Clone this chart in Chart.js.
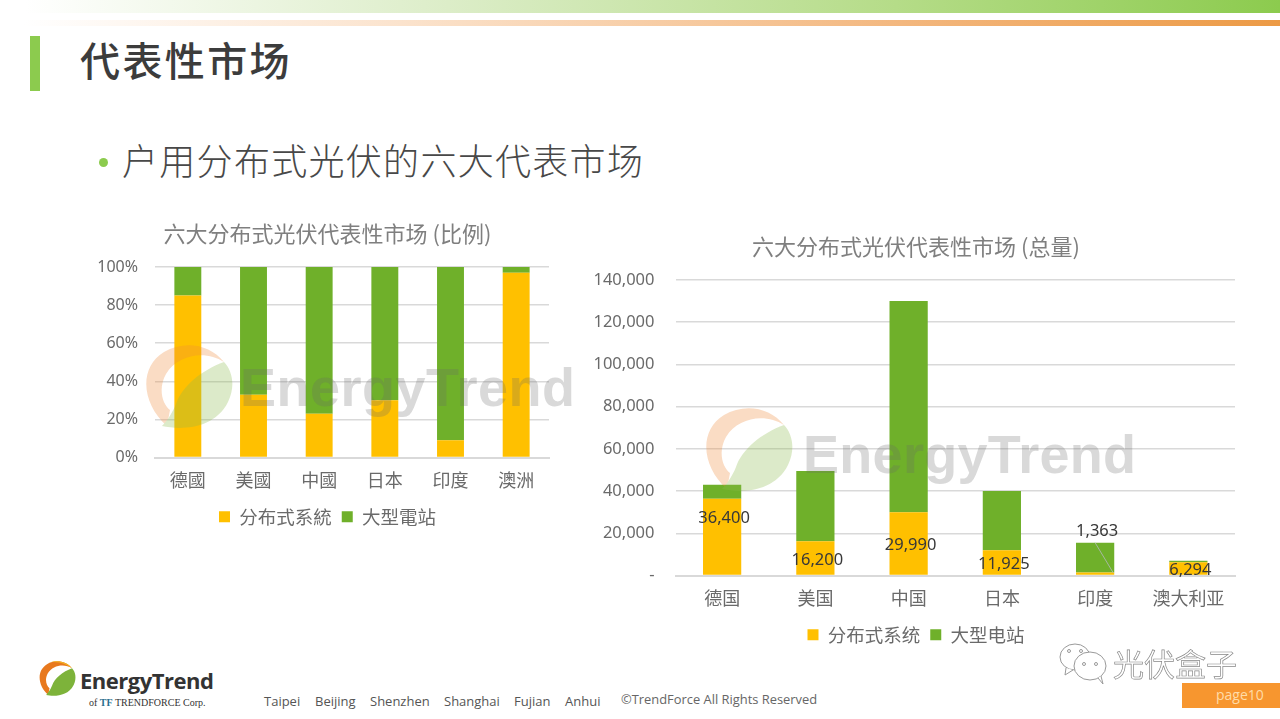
<!DOCTYPE html>
<html>
<head>
<meta charset="utf-8">
<script src="https://cdn.jsdelivr.net/npm/chart.js@4"></script>
<style>
    html, body { margin: 0; padding: 0; background: #fff; }
    body { width: 1280px; height: 719px; position: relative; overflow: hidden; font-family: "Noto Sans", "Noto Sans CJK SC", sans-serif; }
    .abs { position: absolute; white-space: nowrap; line-height: 1; }
    #topGreen { left: 0; top: 0; width: 1280px; height: 13px; background: linear-gradient(90deg, #fff 2%, #dcedc8 35%, #b5dc88 70%, #8ccb4e 100%); }
    #topOrange { left: 24px; top: 20px; width: 1256px; height: 6px; background: linear-gradient(90deg, #fff 0%, #fbe3cd 30%, #f3b77e 70%, #ec9a45 100%); }
    #sideBar { left: 30px; top: 36px; width: 10px; height: 55px; background: #8ccb4e; }
    #heading { left: 80px; top: 39px; font-size: 40px; letter-spacing: 2.4px; color: #3c3c3c; font-family: "Noto Sans CJK SC"; font-weight: 500; }
    #bulletDot { left: 99px; top: 158px; width: 9px; height: 9px; border-radius: 50%; background: #8ccb4e; }
    #bullet { left: 122px; top: 141px; font-size: 36px; letter-spacing: 1.3px; color: #484848; font-family: "Noto Sans CJK SC"; font-weight: 300; }
    canvas { position: absolute; }
    #shareChart { left: 80px; top: 210px; }
    #totalChart { left: 590px; top: 230px; }
    .mark { font-family: "Liberation Sans"; font-weight: bold; color: rgba(105,105,105,.25); pointer-events: none; }
    #footBrand { left: 80px; top: 669px; font-size: 22px; font-weight: bold; color: #333; font-family: "Open Sans"; letter-spacing: -.5px; }
    #footOf { left: 89px; top: 698px; font-size: 10px; color: #333; font-family: "Liberation Serif"; }
    .city { top: 695px; font-size: 13px; color: #555; font-family: "Open Sans"; }
    #copy { left: 621px; top: 693px; font-size: 12.9px; color: #666; font-family: "Open Sans"; }
    #wechat { left: 1113px; top: 647px; font-size: 31px; color: #fff; font-family: "Noto Sans CJK SC"; -webkit-text-stroke: .7px #888; }
    #pageBox { left: 1182px; top: 683px; width: 98px; height: 25px; background: #f7962f; }
    #pageNo { left: 1216px; top: 688px; font-size: 14px; color: #ffdca8; font-family: "Open Sans"; }
</style>
</head>
<body>
<div class="abs" id="topGreen"></div>
<div class="abs" id="topOrange"></div>
<div class="abs" id="sideBar"></div>
<div class="abs" id="heading">代表性市场</div>
<div class="abs" id="bulletDot"></div>
<div class="abs" id="bullet">户用分布式光伏的六大代表市场</div>

<canvas id="shareChart" width="495" height="326"></canvas>
<canvas id="totalChart" width="652" height="424"></canvas>

<svg class="abs" style="left:140px;top:342px" width="96" height="96" viewBox="0 0 96 96" opacity=".3">
    <path d="M27 84 C2 62 -2 26 24 10 C44 -2 70 2 84 20 C66 8 38 12 26 32 C18 46 22 62 30 68 Z" fill="#ee8a3c"/>
    <path d="M22 84 C40 88 74 88 88 60 C96 44 92 28 84 20 C62 28 42 44 36 62 C32 72 26 80 22 84 Z" fill="#8dbb4d"/>
</svg>
<div class="abs mark" style="left:240px;top:360px;font-size:54px;letter-spacing:.5px">EnergyTrend</div>
<svg class="abs" style="left:700px;top:405px" width="96" height="96" viewBox="0 0 96 96" opacity=".3">
    <path d="M27 84 C2 62 -2 26 24 10 C44 -2 70 2 84 20 C66 8 38 12 26 32 C18 46 22 62 30 68 Z" fill="#ee8a3c"/>
    <path d="M22 84 C40 88 74 88 88 60 C96 44 92 28 84 20 C62 28 42 44 36 62 C32 72 26 80 22 84 Z" fill="#8dbb4d"/>
</svg>
<div class="abs mark" style="left:803px;top:427px;font-size:54px;letter-spacing:.3px">EnergyTrend</div>

<svg class="abs" style="left:37px;top:660px" width="40" height="40" viewBox="0 0 96 96">
    <path d="M27 84 C2 62 -2 26 24 10 C44 -2 70 2 84 20 C66 8 38 12 26 32 C18 46 22 62 30 68 Z" fill="#e8791e"/>
    <path d="M84 20 C76 6 50 -2 30 6 C50 2 70 10 84 20 Z" fill="#f3b221"/>
    <path d="M22 84 C40 88 74 88 88 60 C96 44 92 28 84 20 C62 28 42 44 36 62 C32 72 26 80 22 84 Z" fill="#7db33a"/>
</svg>
<div class="abs" id="footBrand">EnergyTrend</div>
<div class="abs" id="footOf">of <b style="color:#2a6f8f">TF</b> TRENDFORCE Corp.</div>
<div class="abs city" style="left:264px">Taipei</div>
<div class="abs city" style="left:315px">Beijing</div>
<div class="abs city" style="left:370px">Shenzhen</div>
<div class="abs city" style="left:444px">Shanghai</div>
<div class="abs city" style="left:514px">Fujian</div>
<div class="abs city" style="left:565px">Anhui</div>
<div class="abs" id="copy">©TrendForce All Rights Reserved</div>

<svg class="abs" style="left:1056px;top:640px" width="54" height="46" viewBox="0 0 54 46" fill="#fff" stroke="#999" stroke-width="1">
    <ellipse cx="19" cy="17" rx="15" ry="13"/>
    <path d="M10 28 L9 35 L17 30"/>
    <ellipse cx="34" cy="26" rx="16" ry="14"/>
    <path d="M42 38 L47 44 L45 36"/>
    <circle cx="13" cy="11" r="1.5"/><circle cx="25" cy="11" r="1.5"/>
    <circle cx="28" cy="24" r="1.5"/><circle cx="40" cy="24" r="1.5"/>
</svg>
<div class="abs" id="wechat">光伏盒子</div>
<div class="abs" id="pageBox"></div>
<div class="abs" id="pageNo">page10</div>

<script>
// left chart, share per market (%)
const shareCategories = ['德國', '美國', '中國', '日本', '印度', '澳洲'];
const shareDistributed = [85, 33, 23, 30, 9, 97];
const shareUtility = [15, 67, 77, 70, 91, 3];

// right chart, totals
const totalCategories = ['德国', '美国', '中国', '日本', '印度', '澳大利亚'];
const totalDistributed = [36400, 16200, 29990, 11925, 1363, 6294];
const totalUtility = [6600, 33300, 100010, 28075, 14137, 700];

const fontFamily = '"Noto Sans", "Noto Sans CJK SC", sans-serif';
const cjkFamily = '"Noto Sans CJK SC", sans-serif';
const yellow = '#ffc000';
const greenBar = '#6fb02a';
const gridColor = '#d9d9d9';
const textColor = '#6a6a6a';

// value labels sit in the bar, a few are moved the way they were dragged on the slide
const labelLift = [18, -2, -2, -2, 0, -2];

const barLabels = {
    id: 'barLabels',
    afterDatasetsDraw(chart) {
        const ctx = chart.ctx;
        const bars = chart.getDatasetMeta(0).data;
        ctx.save();
        ctx.font = '16.5px ' + fontFamily;
        ctx.fillStyle = '#383838';
        ctx.textAlign = 'center';
        ctx.textBaseline = 'middle';
        bars.forEach((bar, i) => {
            let y = (bar.y + bar.base) / 2 - labelLift[i];
            let x = bar.x + 2;
            if (i == 4) {
                y = bar.base - 43;
                ctx.save();
                ctx.strokeStyle = '#a6b8a0';
                ctx.lineWidth = 1;
                ctx.beginPath();
                ctx.moveTo(bar.x, y + 11);
                ctx.lineTo(bar.x + 18, bar.y);
                ctx.stroke();
                ctx.restore();
            }
            ctx.fillText(totalDistributed[i].toLocaleString('en-US'), x, y);
        });
        ctx.restore();
    }
};

function makeConfig(categories, lower, upper, names, titleText, yOptions, sizes) {
    return {
        type: 'bar',
        data: {
            labels: categories,
            datasets: [
                { label: names[0], data: lower, backgroundColor: yellow, barPercentage: 0.41, categoryPercentage: 1 },
                { label: names[1], data: upper, backgroundColor: greenBar, barPercentage: 0.41, categoryPercentage: 1 }
            ]
        },
        options: {
            responsive: false,
            animation: false,
            plugins: {
                title: {
                    display: true,
                    text: titleText,
                    color: '#7f7f7f',
                    font: { size: 22, family: cjkFamily, weight: 'normal' },
                    padding: { top: sizes.titleTop, bottom: sizes.titleBottom }
                },
                legend: {
                    position: 'bottom',
                    labels: {
                        boxWidth: 11,
                        boxHeight: 11,
                        padding: 10,
                        color: textColor,
                        font: { size: 18.5, family: cjkFamily }
                    }
                },
                tooltip: { enabled: false }
            },
            scales: {
                x: {
                    stacked: true,
                    grid: { display: false },
                    border: { color: gridColor, width: 2 },
                    ticks: { color: textColor, font: { size: 18, family: cjkFamily }, padding: 4, maxRotation: 0 },
                    afterFit(axis) { axis.height = sizes.xHeight; }
                },
                y: Object.assign({
                    stacked: true,
                    min: 0,
                    grid: { color: gridColor, lineWidth: 1.5, drawTicks: false },
                    border: { display: false },
                    afterFit(axis) { axis.width = sizes.yWidth; }
                }, yOptions),
                // empty axis, keeps the plot off the right edge while title and legend stay centred on the canvas
                edge: {
                    axis: 'y',
                    type: 'linear',
                    position: 'right',
                    grid: { display: false },
                    border: { display: false },
                    ticks: { display: false },
                    afterFit(axis) { axis.width = sizes.right; }
                }
            }
        }
    };
}

new Chart(document.getElementById('shareChart'), makeConfig(
    shareCategories, shareDistributed, shareUtility, ['分布式系統', '大型電站'],
    '六大分布式光伏代表性市场 (比例)',
    { max: 100, ticks: { stepSize: 20, color: textColor, padding: 17, font: { size: 16, family: fontFamily }, callback: v => v + '%' } },
    { right: 26, titleTop: 10, titleBottom: 20.6, xHeight: 40, yWidth: 75 }
));

const totalConfig = makeConfig(
    totalCategories, totalDistributed, totalUtility, ['分布式系统', '大型电站'],
    '六大分布式光伏代表性市场 (总量)',
    { max: 140000, ticks: { stepSize: 20000, color: textColor, padding: 21, font: { size: 16.5, family: fontFamily }, callback: v => v == 0 ? '-' : v.toLocaleString('en-US') } },
    { right: 7, titleTop: 3, titleBottom: 20.6, xHeight: 40, yWidth: 85.5 }
);
totalConfig.plugins = [barLabels];
new Chart(document.getElementById('totalChart'), totalConfig);
</script>
</body>
</html>
